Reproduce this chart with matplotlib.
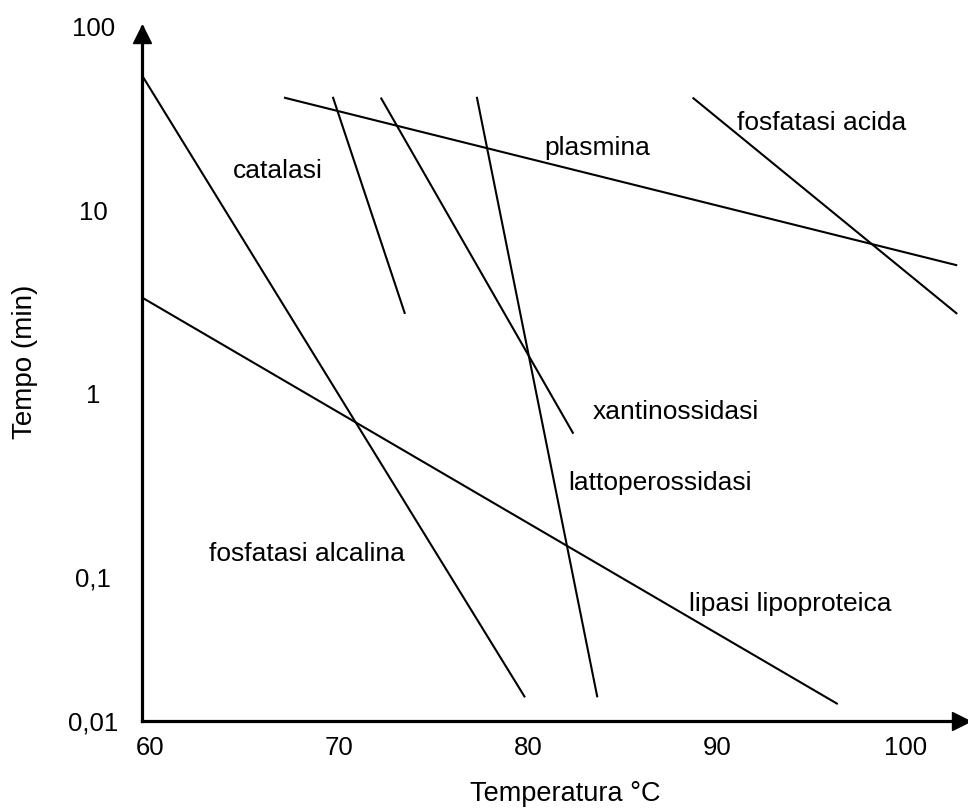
import numpy as np
import matplotlib
matplotlib.use('Agg')
import matplotlib.pyplot as plt

plt.rcParams['font.family'] = ['Liberation Sans', 'DejaVu Sans']

# enzyme inactivation lines: (temp start, temp end), (time start, time end) in minutes
enzymes = ['fosfatasi alcalina', 'lipasi lipoproteica', 'plasmina', 'catalasi',
           'xantinossidasi', 'lattoperossidasi', 'fosfatasi acida']
temp_start = [59.56, 59.56, 67.09, 69.67, 72.21, 77.29, 88.71]
temp_end = [79.84, 96.39, 102.71, 73.49, 82.40, 83.67, 102.71]
time_start = [54.8, 3.36, 41.2, 41.6, 41.2, 41.6, 41.2]
time_end = [0.0222, 0.0204, 5.02, 2.73, 0.607, 0.0222, 2.73]

# where each label sits (temperature, time)
label_temp = [63.12, 88.50, 80.88, 64.39, 83.43, 82.15, 91.04]
label_time = [0.134, 0.0715, 21.9, 16.4, 0.80, 0.325, 30.1]

xticks = [60, 70, 80, 90, 100]
xticklabels = ['60', '70', '80', '90', '100']
ymin, ymax = 0.0165, 100
yticks = [ymin, 0.1, 1, 10, 100]
yticklabels = ['0,01', '0,1', '1', '10', '100']

fig = plt.figure(figsize=(9.68, 8.09), dpi=100)
ax = fig.add_axes([0.1464, 0.1088, 0.8526, 0.8579])

for i in range(len(enzymes)):
    ax.plot([temp_start[i], temp_end[i]], [time_start[i], time_end[i]],
            color='black', lw=1.5, solid_capstyle='butt')
    ax.text(label_temp[i], label_time[i], enzymes[i], fontsize=19,
            ha='left', va='center')

ax.set_yscale('log')
ax.set_xlim(59.56, 103.23)
ax.set_ylim(ymin, ymax)
ax.minorticks_off()
ax.set_xticks(xticks)
ax.set_xticklabels(xticklabels, fontsize=18.5)
ax.set_yticks(yticks)
ax.set_yticklabels(yticklabels, fontsize=18.5, ha='center')
ax.tick_params(axis='x', length=0, pad=11)
ax.tick_params(axis='y', length=0, pad=35)

for s in ['top', 'right']:
    ax.spines[s].set_visible(False)
for s in ['left', 'bottom']:
    ax.spines[s].set_linewidth(2.3)

# arrow heads on the axes
ax.plot(0, 0.99, marker='^', color='black', markersize=13, transform=ax.transAxes,
        clip_on=False)
ax.plot(0.993, 0, marker='>', color='black', markersize=13, transform=ax.transAxes,
        clip_on=False)

fig.text(25 / 968, 1 - 362 / 809, 'Tempo (min)', rotation=90, fontsize=20,
         ha='center', va='center')
fig.text(565 / 968, 8 / 809, 'Temperatura °C', fontsize=19.5,
         ha='center', va='baseline')

fig.savefig('out.png', dpi=100)
